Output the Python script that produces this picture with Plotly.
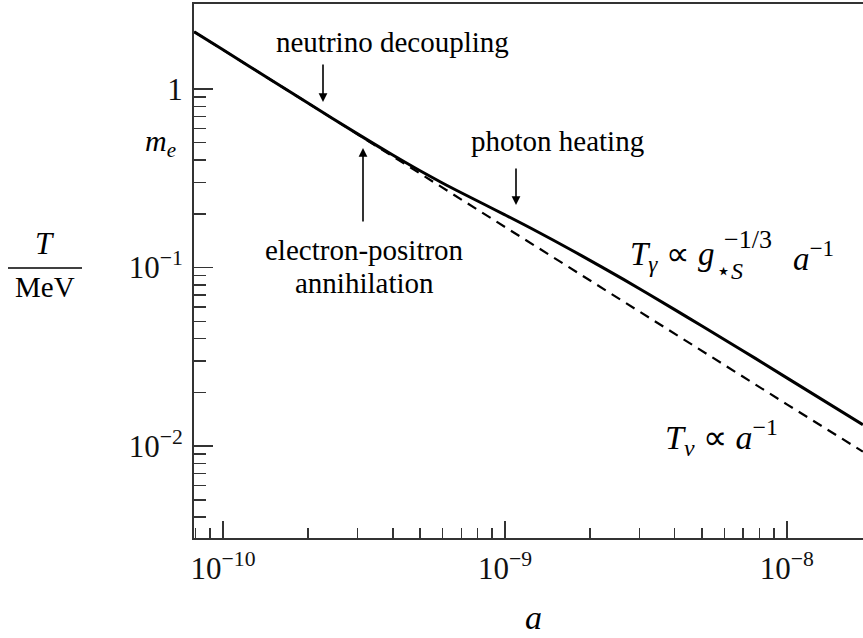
import plotly.graph_objects as go

# ---- data ----
a_gamma = [7.9e-11, 1e-10, 1.5e-10, 2e-10, 3e-10, 4e-10, 5e-10, 6e-10, 7e-10,
           8.5e-10, 1e-9, 1.3e-9, 1.7e-9, 2.2e-9, 3e-9, 4e-9, 5e-9, 7e-9,
           1e-8, 1.86e-8]
T_gamma = [2.09, 1.66, 1.108, 0.834, 0.5606, 0.4265, 0.3481, 0.2976, 0.2623,
           0.2246, 0.1972, 0.1591, 0.1266, 0.1009, 0.0761, 0.0581, 0.0470,
           0.0341, 0.0241, 0.01317]

a_nu = [7.9e-11, 1e-10, 2e-10, 5e-10, 1e-9, 2e-9, 5e-9, 1e-8, 1.86e-8]
T_nu = [2.09, 1.66, 0.834, 0.336, 0.1685, 0.0846, 0.0341, 0.01713, 0.0093]

x_major = [1e-10, 1e-9, 1e-8]
x_major_text = ["10<sup>−10</sup>", "10<sup>−9</sup>", "10<sup>−8</sup>"]
y_major = [1e-2, 1e-1, 1]
y_major_text = ["10<sup>−2</sup>", "10<sup>−1</sup>", "1"]

x_minor = [m * 10.0**k for k in (-11, -10, -9, -8) for m in range(2, 10)]
y_minor = [m * 10.0**k for k in (-3, -2, -1) for m in range(2, 10)]

# ---- geometry helpers (pixel -> paper) ----
W, H = 863, 638
L, R, T, B = 194, 863, 4, 538


def px(x):
    return (x - L) / (R - L)


def py(y):
    return (B - y) / (B - T)


SERIF = "Liberation Serif"
INK = "#000000"

fig = go.Figure()
fig.add_trace(go.Scatter(x=a_nu, y=T_nu, mode="lines",
                         line=dict(color=INK, width=2.2, dash="10px,7px"),
                         hoverinfo="skip"))
fig.add_trace(go.Scatter(x=a_gamma, y=T_gamma, mode="lines", line_shape="spline",
                         line=dict(color=INK, width=3, smoothing=1.0),
                         hoverinfo="skip"))

axis_common = dict(
    type="log", showline=True, linecolor="#333", linewidth=2,
    ticks="inside", tickwidth=1.5, tickcolor="#333",
    tickmode="array", showgrid=False, zeroline=False, automargin=False,
    tickfont=dict(family=SERIF, size=31, color="#111"),
)

fig.update_xaxes(**axis_common, range=[-10.103, -7.730], mirror=True,
                 tickvals=x_major, ticktext=x_major_text, ticklen=17,
                 ticklabelstandoff=2,
                 minor=dict(ticks="inside", ticklen=10, tickwidth=1.5,
                            tickcolor="#333", tickmode="array",
                            tickvals=x_minor, showgrid=False))
fig.update_yaxes(**axis_common, range=[-2.515, 0.476],
                 tickvals=y_major, ticktext=y_major_text, ticklen=19,
                 ticklabelstandoff=3,
                 minor=dict(ticks="inside", ticklen=12, tickwidth=1.5,
                            tickcolor="#333", tickmode="array",
                            tickvals=y_minor, showgrid=False))

ann = []


def text(x, y, s, size=29, xanchor="center", yanchor="middle"):
    ann.append(dict(xref="paper", yref="paper", x=px(x), y=py(y), text=s,
                    showarrow=False, xanchor=xanchor, yanchor=yanchor,
                    font=dict(family=SERIF, size=size, color=INK)))


def arrow(x, y_tip, y_tail):
    ann.append(dict(xref="paper", yref="paper", x=px(x), y=py(y_tip), text="",
                    showarrow=True, ax=0, ay=y_tail - y_tip, arrowhead=2,
                    arrowsize=1.1, arrowwidth=1.6, arrowcolor=INK, standoff=0))


text(392, 42, "neutrino decoupling")
arrow(323, 102, 63)

text(557, 141, "photon heating")
arrow(516, 205, 167)

text(364, 250, "electron-positron")
text(364, 283, "annihilation")
arrow(363, 148, 223)

# T_gamma ∝ g_{*S}^{-1/3} a^{-1}
text(716, 256, "<i>T</i><sub><i>γ</i></sub> ∝ <i>g</i>", size=33, xanchor="right")
text(722, 240, "−1/3", size=26, xanchor="left")
text(714, 271, "⋆<i>S</i>", size=24, xanchor="left")
text(791, 256, "<i>a</i><sup>−1</sup>", size=33, xanchor="left")

# T_nu ∝ a^{-1}
text(721, 437, "<i>T</i><sub><i>ν</i></sub> ∝ <i>a</i><sup>−1</sup>", size=34)

# m_e label
text(178, 143, "<i>m</i><sub><i>e</i></sub>", size=30, xanchor="right")

# axis titles
text(533, 638, "<i>a</i>", size=34, yanchor="bottom")
text(45, 243, "<i>T</i>", size=31)
text(45, 287, "MeV", size=29)

fig.update_layout(
    width=W, height=H,
    margin=dict(l=L, r=W - R, t=T, b=H - B, pad=0, autoexpand=False),
    paper_bgcolor="white", plot_bgcolor="white",
    showlegend=False, annotations=ann,
    shapes=[dict(type="line", xref="paper", yref="paper",
                 x0=px(8), x1=px(82), y0=py(268), y1=py(268),
                 line=dict(color=INK, width=1.6))],
)

fig.write_html(
    "out.html",
    config={"displayModeBar": False, "staticPlot": True},
    post_script="document.body.style.margin='0';"
                "document.body.style.overflow='hidden';",
)
